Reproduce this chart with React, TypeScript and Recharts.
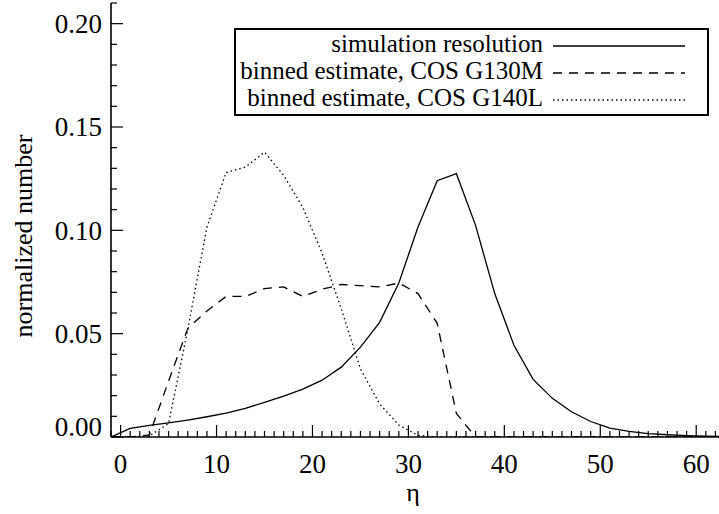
import { LineChart, Line, XAxis, YAxis, Legend } from 'recharts';

// η sampled every 2 units (bin centres)
const eta = [-1, 1, 3, 5, 7, 9, 11, 13, 15, 17, 19, 21, 23, 25, 27, 29, 31, 33, 35, 37, 39, 41, 43, 45, 47, 49, 51, 53, 55, 57, 59, 61, 63];

const simResolution = [
  0, 0.0042, 0.0056, 0.0068, 0.0082, 0.0098, 0.0116, 0.0138, 0.0168, 0.0198, 0.0232, 0.0275, 0.0338, 0.0435, 0.0555, 0.0745,
  0.1016, 0.124, 0.1274, 0.1024, 0.0694, 0.0444, 0.0279, 0.0187, 0.0122, 0.0075, 0.0043, 0.0027, 0.0016, 0.0011, 0.0007, 0.0004, 0.0002,
];

const binnedG130M = [
  0, 0, 0.001, 0.027, 0.0525, 0.061, 0.068, 0.068, 0.0718, 0.0726, 0.068, 0.0715, 0.0738, 0.0732, 0.0726, 0.0745,
  0.0694, 0.055, 0.0114, 0, 0, 0, 0, 0, 0, 0, 0, 0, 0, 0, 0, 0, 0,
];

const binnedG140L = [
  0, 0, 0.0005, 0.0065, 0.052, 0.1016, 0.128, 0.1306, 0.1378, 0.1266, 0.111, 0.089, 0.062, 0.033, 0.016, 0.0058,
  0.0008, 0, 0, 0, 0, 0, 0, 0, 0, 0, 0, 0, 0, 0, 0, 0, 0,
];

const seriesKeys = ['sim', 'g130m', 'g140l'];
const seriesNames = ['simulation resolution', 'binned estimate, COS G130M', 'binned estimate, COS G140L'];
const seriesDash = [undefined, '9 7', '1.5 3'];

const xMajorTicks = [0, 10, 20, 30, 40, 50, 60];
const yMajorTicks = [0, 0.05, 0.1, 0.15, 0.2];
const yTickLabels = ['0.00', '0.05', '0.10', '0.15', '0.20'];

// minor ticks: every 1 in η, every 0.01 in y
const xMinorTicks = Array.from({ length: 65 }, (_, i) => i - 1);
const yMinorTicks = Array.from({ length: 22 }, (_, i) => +(i * 0.01).toFixed(2));

const data = eta.map((e, i) => ({
  eta: e,
  sim: simResolution[i],
  g130m: binnedG130M[i],
  g140l: binnedG140L[i],
}));

const FONT = 'Liberation Serif, DejaVu Serif, serif';
const INK = '#000';

const isYMajor = (v: number) => yMajorTicks.findIndex((t) => Math.abs(t - v) < 1e-6);

function BottomTick({ x, y, payload }: any) {
  const v = payload.value;
  const major = xMajorTicks.includes(v);
  return (
    <g>
      <line x1={x} x2={x} y1={y} y2={y - (major ? 12 : 6)} stroke={INK} strokeWidth={1.2} />
      {major && (
        <text x={x} y={y + 36} textAnchor="middle" fontSize={27} fontFamily={FONT} fill={INK}>
          {v}
        </text>
      )}
    </g>
  );
}

function TopTick({ x, y, payload }: any) {
  const major = xMajorTicks.includes(payload.value);
  return <line x1={x} x2={x} y1={y} y2={y + (major ? 12 : 6)} stroke={INK} strokeWidth={1.2} />;
}

function LeftTick({ x, y, payload }: any) {
  const idx = isYMajor(payload.value);
  const major = idx >= 0;
  return (
    <g>
      <line x1={x} x2={x + (major ? 12 : 6)} y1={y} y2={y} stroke={INK} strokeWidth={1.2} />
      {major && (
        <text
          x={x - 9}
          y={y + (payload.value === 0 ? -10 : 0)}
          dy="0.35em"
          textAnchor="end"
          fontSize={27}
          fontFamily={FONT}
          fill={INK}
        >
          {yTickLabels[idx]}
        </text>
      )}
    </g>
  );
}

function RightTick({ x, y, payload }: any) {
  const major = isYMajor(payload.value) >= 0;
  return <line x1={x} x2={x - (major ? 12 : 6)} y1={y} y2={y} stroke={INK} strokeWidth={1.2} />;
}

// legend box: right-aligned names, line sample to the right
function LegendBox() {
  return (
    <svg width={475} height={88} style={{ display: 'block' }}>
      <rect x={1} y={1} width={473} height={86} fill="#fff" stroke={INK} strokeWidth={2} />
      {seriesNames.map((name, i) => {
        const rowY = 18 + 27 * i;
        return (
          <g key={name}>
            <text x={309} y={rowY + 6} textAnchor="end" fontSize={25} fontFamily={FONT} fill={INK}>
              {name}
            </text>
            <line x1={319} x2={451} y1={rowY} y2={rowY} stroke={INK} strokeWidth={1.3} strokeDasharray={seriesDash[i]} />
          </g>
        );
      })}
    </svg>
  );
}

export default function App() {
  return (
    <div style={{ position: 'absolute', left: 0, top: 0, background: '#fff' }}>
      <LineChart width={719} height={514} data={data} margin={{ top: 3, right: -6, bottom: 0, left: 0 }}>
        <XAxis
          dataKey="eta"
          type="number"
          domain={[-1, 63]}
          allowDataOverflow
          ticks={xMinorTicks}
          interval={0}
          height={77}
          tickSize={0}
          tickMargin={0}
          tickLine={false}
          axisLine={{ stroke: INK, strokeWidth: 1.6 }}
          tick={BottomTick}
          label={{
            content: () => (
              <text x={413} y={501} textAnchor="middle" fontSize={26} fontFamily={FONT} fill={INK}>
                η
              </text>
            ),
          }}
        />
        <XAxis
          xAxisId="top"
          orientation="top"
          dataKey="eta"
          type="number"
          domain={[-1, 63]}
          allowDataOverflow
          ticks={xMinorTicks}
          interval={0}
          height={0}
          tickSize={0}
          tickMargin={0}
          tickLine={false}
          axisLine={{ stroke: INK, strokeWidth: 1.6 }}
          tick={TopTick}
        />
        <YAxis
          type="number"
          domain={[0, 0.21]}
          allowDataOverflow
          ticks={yMinorTicks}
          interval={0}
          width={111}
          tickSize={0}
          tickMargin={0}
          tickLine={false}
          axisLine={{ stroke: INK, strokeWidth: 1.6 }}
          tick={LeftTick}
          label={{
            content: () => (
              <text
                x={32}
                y={236}
                transform="rotate(-90, 32, 236)"
                textAnchor="middle"
                fontSize={26}
                fontFamily={FONT}
                fill={INK}
              >
                normalized number
              </text>
            ),
          }}
        />
        <YAxis
          yAxisId="right"
          orientation="right"
          type="number"
          domain={[0, 0.21]}
          allowDataOverflow
          ticks={yMinorTicks}
          interval={0}
          width={0}
          tickSize={0}
          tickMargin={0}
          tickLine={false}
          axisLine={{ stroke: INK, strokeWidth: 1.6 }}
          tick={RightTick}
        />
        <Legend
          layout="vertical"
          align="center"
          verticalAlign="middle"
          wrapperStyle={{ left: 234, top: 28, width: 475, height: 88 }}
          content={() => <LegendBox />}
        />
        {seriesKeys.map((k, i) => (
          <Line
            key={k}
            type="linear"
            dataKey={k}
            name={seriesNames[i]}
            stroke={INK}
            strokeWidth={1.3}
            strokeDasharray={seriesDash[i]}
            dot={false}
            activeDot={false}
            isAnimationActive={false}
          />
        ))}
      </LineChart>
    </div>
  );
}
